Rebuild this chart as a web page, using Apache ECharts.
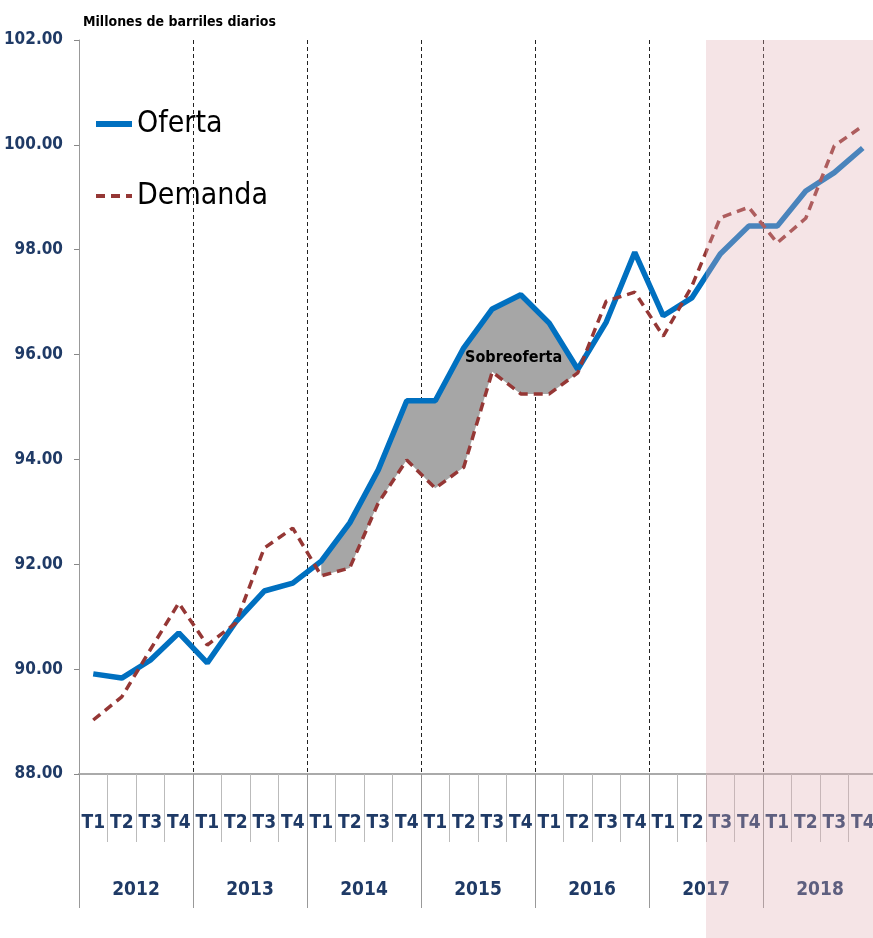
<!DOCTYPE html>
<html>
<head>
<meta charset="utf-8">
<script src="https://cdn.jsdelivr.net/npm/echarts@6/dist/echarts.min.js"></script>
<style>
  html, body { margin: 0; padding: 0; background: #fff; }
  #chart { width: 873px; height: 938px; }
</style>
</head>
<body>
<div id="chart"></div>
<script>
// Data (millones de barriles diarios)
var years = ["2012", "2013", "2014", "2015", "2016", "2017", "2018"];
var quarterNames = ["T1", "T2", "T3", "T4"];
var oferta = [
  89.91, 89.83, 90.17, 90.69,
  90.12, 90.90, 91.49, 91.64,
  92.06, 92.79, 93.80, 95.12,
  95.12, 96.13, 96.87, 97.14,
  96.60, 95.72, 96.62, 97.95,
  96.74, 97.08, 97.92, 98.45,
  98.45, 99.12, 99.47, 99.94
];
var demanda = [
  89.03, 89.47, 90.37, 91.26,
  90.46, 90.88, 92.31, 92.69,
  91.78, 91.93, 93.17, 93.99,
  93.45, 93.85, 95.67, 95.25,
  95.25, 95.65, 97.02, 97.19,
  96.35, 97.30, 98.61, 98.81,
  98.13, 98.60, 99.98, 100.36
];
// sobreoferta shaded from 2014 T1 to 2016 T2, forecast zone from 2017 T3
var gapFrom = 8, gapTo = 17;
var forecastFrom = 22;

var quarters = [];
years.forEach(function () {
  quarterNames.forEach(function (q) { quarters.push(q); });
});

var gapBase = [], gapDiff = [];
for (var i = 0; i < oferta.length; i++) {
  if (i >= gapFrom && i <= gapTo) {
    gapBase.push(demanda[i]);
    gapDiff.push(+(oferta[i] - demanda[i]).toFixed(2));
  } else {
    gapBase.push("-");
    gapDiff.push("-");
  }
}

var navy = "#1F3A66";
var font = "'DejaVu Sans Condensed', 'Liberation Sans Narrow', 'Open Sans', sans-serif";

var chart = echarts.init(document.getElementById("chart"));
var option = {
  animation: false,
  title: {
    text: "Millones de barriles diarios",
    left: 78,
    top: 10,
    textStyle: { fontFamily: font, fontSize: 14, fontWeight: "bold", color: "#000" }
  },
  legend: {
    data: [
      { name: "Oferta", lineStyle: { width: 6 } },
      { name: "Demanda", lineStyle: { width: 4 } }
    ],
    orient: "vertical",
    left: 88,
    top: 104,
    itemWidth: 36,
    itemHeight: 14,
    itemGap: 42,
    itemStyle: { opacity: 0 },
    textStyle: { fontFamily: font, fontSize: 30, color: "#000" }
  },
  grid: { left: 79, right: -4, top: 40, bottom: 164, containLabel: false, outerBoundsMode: "none" },
  xAxis: [
    {
      type: "category",
      data: quarters,
      boundaryGap: true,
      axisLine: { show: true, lineStyle: { color: "#aaa", width: 2 } },
      axisTick: { show: true, interval: 0, length: 68, lineStyle: { color: "#bbb", width: 1 } },
      axisLabel: {
        interval: 0,
        margin: 40,
        fontFamily: font,
        fontSize: 19,
        fontWeight: "bold",
        color: navy
      },
      splitLine: { show: false }
    },
    {
      type: "category",
      data: years,
      position: "bottom",
      boundaryGap: true,
      axisLine: { show: false },
      axisTick: { show: true, interval: 0, length: 134, lineStyle: { color: "#999", width: 1 } },
      axisLabel: {
        interval: 0,
        margin: 107,
        fontFamily: font,
        fontSize: 19,
        fontWeight: "bold",
        color: navy
      },
      splitLine: {
        show: true,
        interval: function (index) { return index > 0; },
        lineStyle: { color: "#222", width: 1, type: [4, 3] }
      }
    }
  ],
  yAxis: {
    type: "value",
    min: 88,
    max: 102,
    interval: 2,
    axisLine: { show: true, lineStyle: { color: "#999" } },
    axisTick: { show: true, length: 5, lineStyle: { color: "#888" } },
    splitLine: { show: false },
    axisLabel: {
      margin: 16,
      fontFamily: font,
      fontSize: 17,
      fontWeight: "bold",
      color: navy,
      formatter: function (v) { return v.toFixed(2); }
    }
  },
  series: [
    {
      name: "base",
      type: "line",
      data: gapBase,
      stack: "gap",
      symbol: "none",
      lineStyle: { width: 0 },
      silent: true
    },
    {
      name: "Sobreoferta",
      type: "line",
      data: gapDiff,
      stack: "gap",
      symbol: "none",
      lineStyle: { width: 0 },
      areaStyle: { color: "#A6A6A6", opacity: 1 },
      silent: true
    },
    {
      name: "Oferta",
      type: "line",
      data: oferta,
      symbol: "none",
      lineStyle: { color: "#0070C0", width: 5.5 },
      itemStyle: { color: "#0070C0" }
    },
    {
      name: "Demanda",
      type: "line",
      data: demanda,
      symbol: "none",
      lineStyle: { color: "#953735", width: 3.5, type: [9, 6] },
      itemStyle: { color: "#953735" }
    }
  ]
};
chart.setOption(option);

// forecast zone overlay and annotation, placed through the axis scales
var band = chart.convertToPixel({ xAxisIndex: 0 }, 1) - chart.convertToPixel({ xAxisIndex: 0 }, 0);
var zoneLeft = chart.convertToPixel({ xAxisIndex: 0 }, forecastFrom) - band / 2;
var zoneTop = chart.convertToPixel({ yAxisIndex: 0 }, 102);
var labelPos = chart.convertToPixel({ xAxisIndex: 0, yAxisIndex: 0 }, [14, 95.93]);

chart.setOption({
  graphic: [
    {
      type: "text",
      x: labelPos[0] + band * 0.75,
      y: labelPos[1],
      z: 50,
      style: {
        text: "Sobreoferta",
        fill: "#000",
        align: "center",
        verticalAlign: "middle",
        font: "bold 16px " + font
      }
    },
    {
      type: "rect",
      z: 100,
      silent: true,
      shape: { x: zoneLeft, y: zoneTop, width: 880 - zoneLeft, height: 938 - zoneTop },
      style: { fill: "rgba(224,173,179,0.33)" }
    }
  ]
});
</script>
</body>
</html>
